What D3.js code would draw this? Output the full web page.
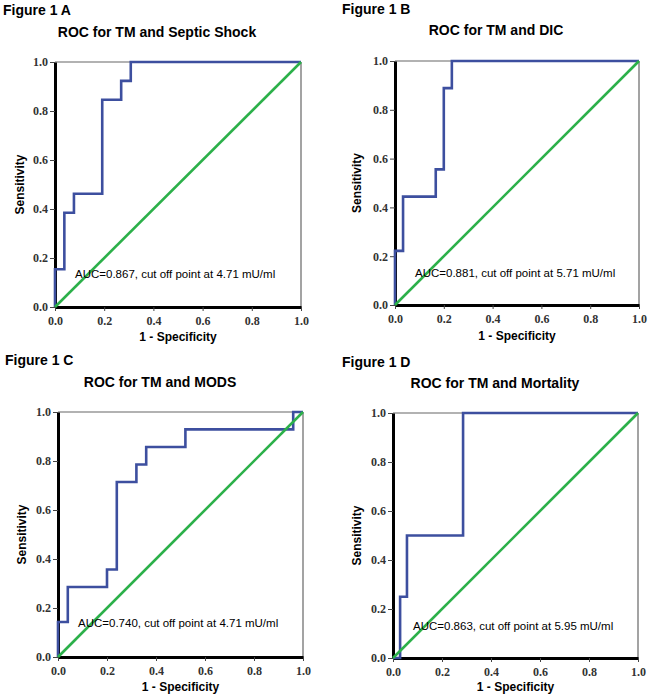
<!DOCTYPE html>
<html>
<head>
<meta charset="utf-8">
<script src="https://cdn.jsdelivr.net/npm/d3@7"></script>
<style>
  html, body { margin: 0; padding: 0; background: #fff; }
  svg { display: block; }
  .ticklab { font-family: "Liberation Serif", "DejaVu Serif", "Times New Roman", serif; }
</style>
</head>
<body>
<svg id="chart" width="650" height="697"></svg>
<script>
// ---------- data ----------
const panelLetters = ["A", "B", "C", "D"];
const panelTitles = [
  "ROC for TM and Septic Shock",
  "ROC for TM and DIC",
  "ROC for TM and MODS",
  "ROC for TM and Mortality"
];
const aucTexts = [
  "AUC=0.867, cut off point at 4.71 mU/ml",
  "AUC=0.881, cut off point at 5.71 mU/ml",
  "AUC=0.740, cut off point at 4.71 mU/ml",
  "AUC=0.863, cut off point at 5.95 mU/ml"
];
const tickValues = [0, 0.2, 0.4, 0.6, 0.8, 1.0];
const tickLabels = ["0.0", "0.2", "0.4", "0.6", "0.8", "1.0"];
const xAxisTitle = "1 - Specificity";
const yAxisTitle = "Sensitivity";

// ROC curves: 1 - specificity (fpr) and sensitivity (tpr)
const fprA = [0, 0, 0.038, 0.038, 0.077, 0.077, 0.192, 0.192, 0.269, 0.269, 0.308, 0.308, 1];
const tprA = [0, 0.154, 0.154, 0.385, 0.385, 0.462, 0.462, 0.846, 0.846, 0.923, 0.923, 1, 1];

const fprB = [0, 0, 0.033, 0.033, 0.167, 0.167, 0.2, 0.2, 0.233, 0.233, 1];
const tprB = [0, 0.222, 0.222, 0.444, 0.444, 0.556, 0.556, 0.889, 0.889, 1, 1];

const fprC = [0, 0, 0.04, 0.04, 0.2, 0.2, 0.24, 0.24, 0.32, 0.32, 0.36, 0.36, 0.52, 0.52, 0.96, 0.96, 1];
const tprC = [0, 0.143, 0.143, 0.286, 0.286, 0.357, 0.357, 0.714, 0.714, 0.786, 0.786, 0.857, 0.857, 0.929, 0.929, 1, 1];

const fprD = [0, 0.029, 0.029, 0.057, 0.057, 0.286, 0.286, 1];
const tprD = [0, 0, 0.25, 0.25, 0.5, 0.5, 1, 1];

const referenceLine = [0, 1];

// ---------- layout (pixels) ----------
const layout = [
  { l: 55,  r: 301, t: 62,  b: 307, figX: 3,   figY: 15,  titleX: 157, titleY: 37,  aucX: 75,  aucY: 278, ylabX: 21,  xlabY: 341 },
  { l: 395, r: 639, t: 61,  b: 305, figX: 342, figY: 14,  titleX: 496, titleY: 35,  aucX: 415, aucY: 277, ylabX: 358, xlabY: 340 },
  { l: 58,  r: 303, t: 412, b: 657, figX: 5,   figY: 365, titleX: 160, titleY: 387, aucX: 78,  aucY: 627, ylabX: 23,  xlabY: 691 },
  { l: 393, r: 638, t: 413, b: 658, figX: 342, figY: 367, titleX: 495, titleY: 388, aucX: 413, aucY: 630, ylabX: 358, xlabY: 691 }
];

const curves = [
  { fpr: fprA, tpr: tprA },
  { fpr: fprB, tpr: tprB },
  { fpr: fprC, tpr: tprC },
  { fpr: fprD, tpr: tprD }
];

const svg = d3.select("#chart");
const sans = "Arial, 'Liberation Sans', Helvetica, sans-serif";
const blue = "#3d4f9f";
const green = "#2cb04a";

panelLetters.forEach((letter, i) => {
  const L = layout[i];
  const x = d3.scaleLinear().domain([0, 1]).range([L.l, L.r]);
  const y = d3.scaleLinear().domain([0, 1]).range([L.b, L.t]);
  const g = svg.append("g");

  // headings
  g.append("text").attr("x", L.figX).attr("y", L.figY)
    .attr("font-family", sans).attr("font-weight", "bold").attr("font-size", 14)
    .attr("fill", "#000").text("Figure 1 " + letter);
  g.append("text").attr("x", L.titleX).attr("y", L.titleY)
    .attr("text-anchor", "middle")
    .attr("font-family", sans).attr("font-weight", "bold").attr("font-size", 14)
    .attr("fill", "#000").text(panelTitles[i]);

  // frame (top & right, thin)
  g.append("line").attr("x1", x(0)).attr("x2", x(1)).attr("y1", y(1)).attr("y2", y(1))
    .attr("stroke", "#666").attr("stroke-width", 1.2);
  g.append("line").attr("x1", x(1)).attr("x2", x(1)).attr("y1", y(0)).attr("y2", y(1))
    .attr("stroke", "#666").attr("stroke-width", 1.2);

  // axes
  const fmt = (d) => tickLabels[tickValues.indexOf(d)];
  const xAxis = d3.axisBottom(x).tickValues(tickValues).tickFormat(fmt).tickSizeInner(4).tickSizeOuter(0).tickPadding(5);
  const yAxis = d3.axisLeft(y).tickValues(tickValues).tickFormat(fmt).tickSizeInner(5).tickSizeOuter(0).tickPadding(2);

  const gx = g.append("g").attr("transform", `translate(0,${L.b})`).call(xAxis);
  const gy = g.append("g").attr("transform", `translate(${L.l},0)`).call(yAxis);
  [gx, gy].forEach(a => {
    a.attr("font-family", null).attr("font-size", null);
    a.select(".domain").attr("stroke", "#000").attr("stroke-width", 3);
    a.selectAll(".tick line").attr("stroke", "#444").attr("stroke-width", 1);
    a.selectAll(".tick text").attr("class", "ticklab").attr("font-weight", "bold")
      .attr("font-size", 12).attr("fill", "#333");
  });

  // axis titles
  g.append("text").attr("x", (L.l + L.r) / 2).attr("y", L.xlabY)
    .attr("text-anchor", "middle")
    .attr("font-family", sans).attr("font-weight", "bold").attr("font-size", 12)
    .attr("fill", "#000").text(xAxisTitle);
  g.append("text")
    .attr("transform", `translate(${L.ylabX},${(L.t + L.b) / 2}) rotate(-90)`)
    .attr("text-anchor", "middle").attr("dominant-baseline", "middle")
    .attr("font-family", sans).attr("font-weight", "bold").attr("font-size", 12)
    .attr("fill", "#000").text(yAxisTitle);

  // ROC curve
  const c = curves[i];
  const pts = c.fpr.map((f, k) => [f, c.tpr[k]]);
  const line = d3.line().x(d => x(d[0])).y(d => y(d[1]));
  g.append("path").datum(pts).attr("d", line)
    .attr("fill", "none").attr("stroke", blue).attr("stroke-width", 2.6)
    .attr("stroke-linejoin", "miter");

  // reference line
  g.append("path").datum(referenceLine.map(v => [v, v])).attr("d", line)
    .attr("fill", "none").attr("stroke", green).attr("stroke-width", 2.6);

  // AUC annotation
  g.append("text").attr("x", L.aucX).attr("y", L.aucY)
    .attr("font-family", sans).attr("font-size", 11.5).attr("fill", "#000")
    .text(aucTexts[i]);
});
</script>
</body>
</html>
